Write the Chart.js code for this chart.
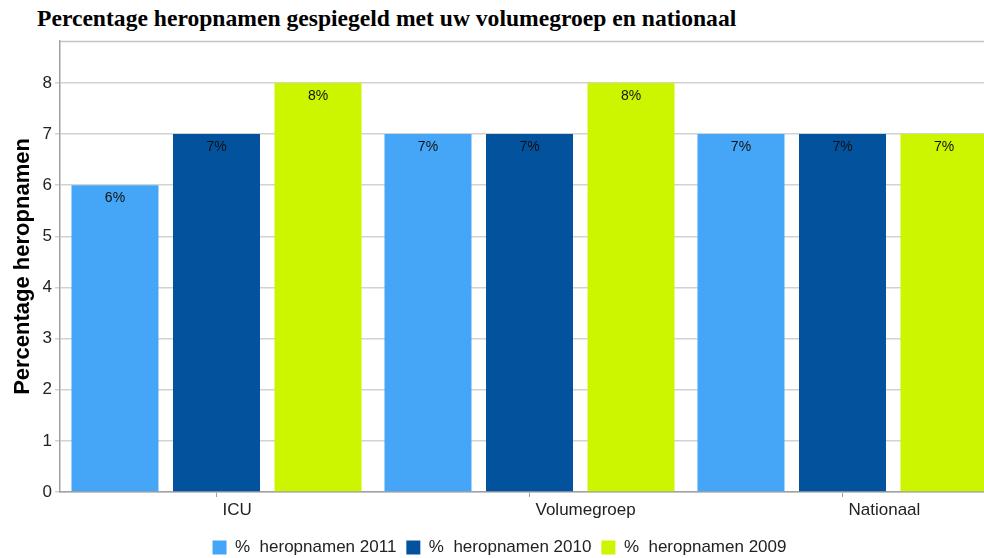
<!DOCTYPE html>
<html>
<head>
<meta charset="utf-8">
<script src="https://cdn.jsdelivr.net/npm/chart.js@4.4.1/dist/chart.umd.min.js"></script>
<style>
  html, body { margin: 0; padding: 0; background: #ffffff; overflow: hidden; }
  #wrap { position: relative; width: 1000px; height: 558px; }
  #title { position: absolute; left: 37px; top: 5px; font: bold 23.6px "Liberation Serif", "Times New Roman", serif; color: #000; white-space: nowrap; }
  canvas { position: absolute; left: 0; top: 0; }
</style>
</head>
<body>
<div id="wrap">
  <div id="title">Percentage heropnamen gespiegeld met uw volumegroep en nationaal</div>
  <canvas id="c" width="1000" height="558"></canvas>
</div>
<script>
const categories = ["ICU", "Volumegroep", "Nationaal"];
const seriesNames = ["%  heropnamen 2011", "%  heropnamen 2010", "%  heropnamen 2009"];
const values2011 = [6, 7, 7];
const values2010 = [7, 7, 7];
const values2009 = [8, 8, 7];
const yTicks = [0, 1, 2, 3, 4, 5, 6, 7, 8];
const yAxisTitle = "Percentage heropnamen";

const colors = ["#45a6f7", "#03529d", "#ccf500"];

const labelPlugin = {
  id: "barLabels",
  afterDatasetsDraw(chart) {
    const ctx = chart.ctx;
    ctx.save();
    ctx.font = "14px 'Liberation Sans', Arial, sans-serif";
    ctx.fillStyle = "#111111";
    ctx.textAlign = "center";
    ctx.textBaseline = "middle";
    chart.data.datasets.forEach((ds, i) => {
      const meta = chart.getDatasetMeta(i);
      meta.data.forEach((el, j) => {
        ctx.fillText(ds.data[j] + "%", el.x, el.y + 13);
      });
    });
    ctx.restore();
  }
};

const framePlugin = {
  id: "frame",
  beforeDatasetsDraw(chart) {
    const {ctx, chartArea} = chart;
    ctx.save();
    ctx.strokeStyle = "#c4c4c4";
    ctx.lineWidth = 1.5;
    ctx.beginPath();
    ctx.moveTo(chartArea.left, chartArea.top + 0.5);
    ctx.lineTo(chartArea.right, chartArea.top + 0.5);
    ctx.stroke();
    ctx.restore();
  }
};

new Chart(document.getElementById("c"), {
  type: "bar",
  data: {
    labels: categories,
    datasets: [
      { label: seriesNames[0], data: values2011, backgroundColor: colors[0] },
      { label: seriesNames[1], data: values2010, backgroundColor: colors[1] },
      { label: seriesNames[2], data: values2009, backgroundColor: colors[2] }
    ]
  },
  options: {
    responsive: false,
    animation: false,
    devicePixelRatio: 1,
    layout: { padding: { top: 41, right: 1, bottom: -8, left: 0 } },
    datasets: { bar: { categoryPercentage: 0.973, barPercentage: 0.857 } },
    plugins: {
      legend: {
        position: "bottom",
        labels: {
          boxWidth: 14, boxHeight: 14, padding: 10,
          color: "#222222",
          font: { family: "'Liberation Sans', Arial, sans-serif", size: 17 }
        }
      },
      tooltip: { enabled: false },
      title: { display: false }
    },
    scales: {
      x: {
        grid: { display: true, drawOnChartArea: false, offset: false, tickLength: 5, color: "#a0a0a0" },
        border: { color: "#a0a0a0", width: 1.5 },
        ticks: {
          align: "start", labelOffset: 6, padding: 3,
          color: "#222222",
          font: { family: "'Liberation Sans', Arial, sans-serif", size: 17 }
        },
        afterFit(scale) { scale.height = 37; }
      },
      y: {
        min: 0, max: 8.82,
        afterBuildTicks(scale) { scale.ticks = yTicks.map(v => ({ value: v })); },
        grid: { color: "#d2d2d2", tickLength: 5, lineWidth: 1.5 },
        border: { color: "#a0a0a0", width: 1.5 },
        ticks: {
          padding: 3,
          color: "#222222",
          font: { family: "'Liberation Sans', Arial, sans-serif", size: 17 }
        },
        title: {
          display: true, text: yAxisTitle, color: "#000000",
          padding: { top: 10, bottom: 0 },
          font: { family: "'Liberation Sans', Arial, sans-serif", size: 22, weight: "bold" }
        },
        afterFit(scale) { scale.width = 60; }
      }
    }
  },
  plugins: [labelPlugin, framePlugin]
});
</script>
</body>
</html>
